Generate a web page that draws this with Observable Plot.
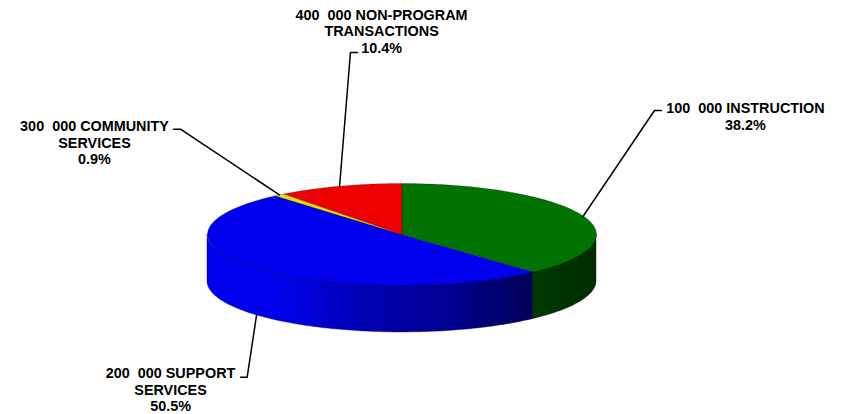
<!DOCTYPE html>
<html>
<head>
<meta charset="utf-8">
<style>
html,body{margin:0;padding:0;background:#fff}
svg{display:block}
</style>
<script src="https://cdn.jsdelivr.net/npm/d3@7"></script>
<script src="https://cdn.jsdelivr.net/npm/@observablehq/plot@0.6"></script>
</head>
<body>
<div id="chart"></div>
<script>
// Data, in drawing order, clockwise from 12 o'clock
const categories = ["100  000 INSTRUCTION", "200  000 SUPPORT\nSERVICES", "300  000 COMMUNITY\nSERVICES", "400  000 NON-PROGRAM\nTRANSACTIONS"];
const shares = [38.2, 50.5, 0.9, 10.4];
const topColors = ["#007300", "#0000ee", "#e8e000", "#ee0000"];

// Label layout in pie units (1 = radius), relative to the pie centre
const labelX = [1.766, -1.19, -1.581, -0.105];
const labelY = [2.324, -3.04, 1.804, 3.99];
const elbowX = [1.298, -0.796, -1.139, -0.265];
const elbowY = [2.431, -2.798, 2.065, 3.569];
const tailX = [1.334, -0.83, -1.175, -0.229];

const depth = 0.92;
const total = d3.sum(shares);
const rad = (f) => f * 2 * Math.PI;

let acc = 0;
const slices = shares.map((v, i) => {
  const a0 = acc / total; acc += v; const a1 = acc / total;
  const mid = rad((a0 + a1) / 2);
  const lower = Math.cos(mid) < 0;
  return {i, a0, a1, mid, lower, name: categories[i], share: v, color: topColors[i]};
});

// Top wedges as closed outlines
const wedgePts = slices.flatMap((s) => {
  const n = Math.max(4, Math.ceil((s.a1 - s.a0) * 360));
  const pts = [{i: s.i, color: s.color, x: 0, y: 0}];
  for (let k = 0; k <= n; ++k) {
    const t = rad(s.a0 + (s.a1 - s.a0) * k / n);
    pts.push({i: s.i, color: s.color, x: Math.sin(t), y: Math.cos(t)});
  }
  pts.push({i: s.i, color: s.color, x: 0, y: 0});
  return pts;
});

// Visible wall: the front half of the disc, from 90 deg to 270 deg
function wall(s) {
  const a0 = Math.max(s.a0, 0.25), a1 = Math.min(s.a1, 0.75);
  if (a1 <= a0) return [];
  const n = Math.ceil((a1 - a0) * 360);
  return d3.range(n + 1).map((k) => {
    const t = rad(a0 + (a1 - a0) * k / n);
    return {x: Math.sin(t), y1: Math.cos(t), y2: Math.cos(t) - depth};
  });
}

// Leaders
const leaders = slices.flatMap((s) => {
  const ax = Math.sin(s.mid), ay = Math.cos(s.mid) - (s.lower ? depth : 0);
  return [
    {i: s.i, x: ax, y: ay},
    {i: s.i, x: elbowX[s.i], y: elbowY[s.i]},
    {i: s.i, x: tailX[s.i], y: elbowY[s.i]}
  ];
});

const labels = slices.map((s) => ({
  text: `${s.name}\n${s.share.toFixed(1)}%`,
  x: labelX[s.i], y: labelY[s.i]
}));

function gradients() {
  const defs = d3.create("svg:defs");
  const g = defs.append("linearGradient").attr("id", "wallBlue").attr("x1", 0).attr("x2", 1).attr("y1", 0).attr("y2", 0);
  [[0, "#0000ee"], [0.2, "#0000ee"], [0.5, "#0000b0"], [0.75, "#000090"], [1, "#000058"]].forEach(([o, c]) =>
    g.append("stop").attr("offset", o).attr("stop-color", c));
  const h = defs.append("linearGradient").attr("id", "wallGreen").attr("x1", 0).attr("x2", 1).attr("y1", 0).attr("y2", 0);
  [[0, "#003a00"], [1, "#002c00"]].forEach(([o, c]) =>
    h.append("stop").attr("offset", o).attr("stop-color", c));
  return defs.node();
}

const chart = Plot.plot({
  width: 844,
  height: 414,
  margin: 0,
  style: {background: "#fff"},
  x: {domain: [-1, 1], range: [207, 596], axis: null},
  y: {domain: [-1, 1], range: [285, 183], axis: null},
  marks: [
    gradients,
    Plot.areaY(wall(slices[1]), {x: "x", y1: "y1", y2: "y2", fill: "url(#wallBlue)", stroke: "#000030", strokeWidth: 0.4}),
    Plot.areaY(wall(slices[0]), {x: "x", y1: "y1", y2: "y2", fill: "url(#wallGreen)", stroke: "#001400", strokeWidth: 0.4}),
    Plot.line(wedgePts, {x: "x", y: "y", z: "i", fill: "color", stroke: "#000", strokeWidth: 0.35, strokeOpacity: 0.6, curve: "linear"}),
    Plot.line(leaders, {x: "x", y: "y", z: "i", stroke: "#000", strokeWidth: 1.5, curve: "linear", strokeLinejoin: "miter"}),
    Plot.text(labels, {x: "x", y: "y", text: "text", fill: "#000", stroke: "none", fontFamily: "'Liberation Sans', Arial, sans-serif", fontWeight: "bold", fontSize: 14.4, lineHeight: 1.15, textAnchor: "middle"})
  ]
});
document.getElementById("chart").appendChild(chart);
</script>
</body>
</html>
